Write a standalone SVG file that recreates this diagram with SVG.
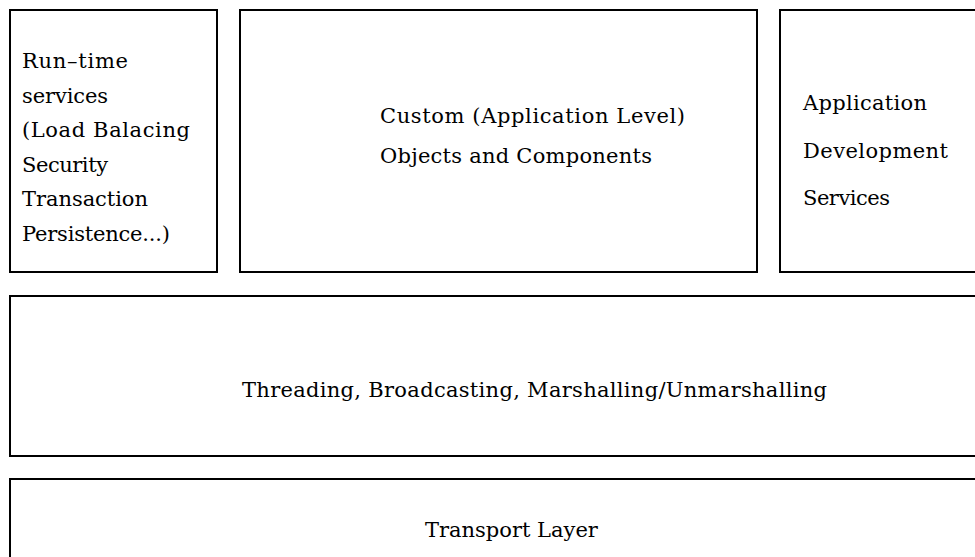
<svg xmlns="http://www.w3.org/2000/svg" width="975" height="557" viewBox="0 0 975 557">
  <style>
    .box { fill: #ffffff; stroke: #000000; stroke-width: 2; }
    .lbl { font-family: "DejaVu Serif", "Liberation Serif", serif; font-size: 21px; fill: #000000; }
  </style>
  <rect x="0" y="0" width="975" height="557" fill="#ffffff"/>
  <g id="runtime-services">
    <rect class="box" x="10" y="10" width="207" height="262"/>
    <text class="lbl" x="22" y="68" textLength="106" lengthAdjust="spacing">Run–time</text>
    <text class="lbl" x="22" y="102.5" textLength="86" lengthAdjust="spacing">services</text>
    <text class="lbl" x="22" y="137" textLength="168" lengthAdjust="spacing">(Load Balacing</text>
    <text class="lbl" x="22" y="171.5" textLength="86" lengthAdjust="spacing">Security</text>
    <text class="lbl" x="22" y="206" textLength="126" lengthAdjust="spacing">Transaction</text>
    <text class="lbl" x="22" y="240.5" textLength="148" lengthAdjust="spacing">Persistence...)</text>
  </g>
  <g id="custom-objects">
    <rect class="box" x="240" y="10" width="517" height="262"/>
    <text class="lbl" x="380" y="123" textLength="305" lengthAdjust="spacing">Custom (Application Level)</text>
    <text class="lbl" x="380" y="163" textLength="272" lengthAdjust="spacing">Objects and Components</text>
  </g>
  <g id="app-dev-services">
    <rect class="box" x="780" y="10" width="220" height="262"/>
    <text class="lbl" x="803" y="110" textLength="124" lengthAdjust="spacing">Application</text>
    <text class="lbl" x="803" y="158" textLength="145" lengthAdjust="spacing">Development</text>
    <text class="lbl" x="803" y="205" textLength="87" lengthAdjust="spacing">Services</text>
  </g>
  <g id="threading">
    <rect class="box" x="10" y="296" width="990" height="160"/>
    <text class="lbl" x="242" y="397" textLength="585" lengthAdjust="spacing">Threading, Broadcasting, Marshalling/Unmarshalling</text>
  </g>
  <g id="transport">
    <rect class="box" x="10" y="479" width="990" height="100"/>
    <text class="lbl" x="425" y="536.5">Transport Layer</text>
  </g>
  <g id="connectors"></g>
</svg>
